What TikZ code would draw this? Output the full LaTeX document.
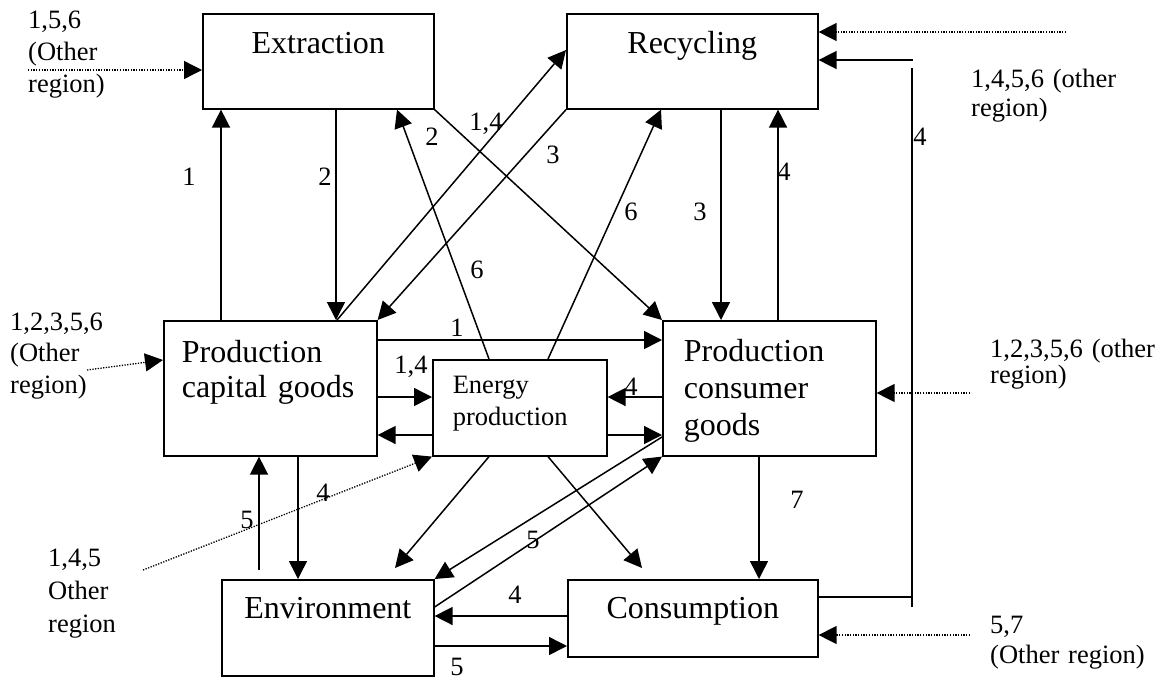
\documentclass[tikz,border=0pt]{standalone}
\usepackage{fontspec}
\setmainfont{Liberation Serif}
\usetikzlibrary{arrows.meta}

\begin{document}
\begin{tikzpicture}[x=1pt, y=-1pt,
      box/.style = {shape=rectangle, draw, line width=1.6pt, anchor=north west,
        inner ysep=0pt, font=\fontsize{32pt}{35pt}\selectfont},
      arr/.style = {line width=1.5pt, -{Triangle[length=18pt, width=18pt]}},
      dotarr/.style = {arr, line width=1.3pt, dash pattern=on 1.3pt off 1.4pt},
      num/.style = {inner sep=0pt, font=\fontsize{26.5pt}{29pt}\selectfont},
      lab/.style = {inner sep=0pt, anchor=base west, align=left, text width=180pt,
        font=\fontsize{26.5pt}{#1}\selectfont}]
  \useasboundingbox (0,0) rectangle (1161,681);

  % sectors
  \node[box, inner xsep=0pt, text width=231pt, align=center,
    text height=40pt, text depth=55pt] (extr) at (202,13) {Extraction};
  \node[box, inner xsep=0pt, text width=251pt, align=center,
    text height=40pt, text depth=55pt] (recy) at (566,13) {Recycling};
  \node[box, inner xsep=18pt, text width=177pt, align=left,
    text height=42pt, text depth=93pt] (pcap) at (163,320) {Production\\capital goods};
  \node[box, inner xsep=20pt, text width=134pt, align=left,
    text height=34pt, text depth=62pt,
    font=\fontsize{26.5pt}{32pt}\selectfont] (ener) at (432,359) {Energy\\production};
  \node[box, inner xsep=21pt, text width=171pt, align=left,
    text height=41pt, text depth=94pt,
    font=\fontsize{32pt}{37pt}\selectfont] (pcon) at (662,320) {Production\\consumer\\goods};
  \node[box, inner xsep=0pt, text width=212pt, align=center,
    text height=39pt, text depth=57pt] (envi) at (221,579) {Environment};
  \node[box, inner xsep=0pt, text width=250pt, align=center,
    text height=39pt, text depth=38pt] (cons) at (567,579) {Consumption};

  % other regions
  \node[lab=32pt] (oth1) at (28,28) {1,5,6\\(Other\\region)};
  \node[lab=31.5pt] (oth2) at (10,330) {1,2,3,5,6\\(Other\\region)};
  \node[lab=33pt] (oth3) at (48,566) {1,4,5\\Other\\region};
  \node[lab=29pt] (oth4) at (971,87) {1,4,5,6 (other\\region)};
  \node[lab=26pt] (oth5) at (990,357) {1,2,3,5,6 (other\\region)};
  \node[lab=30pt] (oth6) at (990,633) {5,7\\(Other region)};

  \coordinate (o1) at (1066,32);
  \coordinate (o2) at (28,70);
  \coordinate (o3) at (87,370);
  \coordinate (o4) at (143,570);
  \coordinate (o5) at (970,393);
  \coordinate (o6) at (970,635);
  \draw[dotarr] (o1) -- (recy.east |- o1);
  \draw[dotarr] (o2) -- (extr.west |- o2);
  \draw[dotarr] (o3) -- (pcap.west |- 0,360);
  \draw[dotarr] (o4) -- (ener.south west);
  \draw[dotarr] (o5) -- (pcon.east |- o5);
  \draw[dotarr] (o6) -- (cons.east |- o6);

  % flows between sectors
  \draw[arr] (221,0 |- pcap.north) -- (221,0 |- extr.south);
  \draw[arr] (336,0 |- extr.south) -- (336,0 |- pcap.north);
  \draw[arr] (489,0 |- ener.north) -- (397,0 |- extr.south);
  \draw[arr] (extr.south east) -- (pcon.north west);
  \draw[arr] (337,0 |- pcap.north) -- (recy.west |- 0,50);
  \draw[arr] (recy.south west) -- (pcap.north east);
  \draw[arr] (548,0 |- ener.north) -- (661,0 |- recy.south);
  \draw[arr] (721,0 |- recy.south) -- (721,0 |- pcon.north);
  \draw[arr] (778,0 |- pcon.north) -- (778,0 |- recy.south);

  \draw[arr] (pcap.east |- 0,340) -- (pcon.west |- 0,340);
  \draw[arr] (pcap.east |- 0,397) -- (ener.west |- 0,397);
  \draw[arr] (ener.west |- 0,435) -- (pcap.east |- 0,435);
  \draw[arr] (pcon.west |- 0,397) -- (ener.east |- 0,397);
  \draw[arr] (ener.east |- 0,435) -- (pcon.west |- 0,435);

  \coordinate (e1) at (395,568);
  \coordinate (e2) at (642,568);
  \coordinate (e3) at (259,570);
  \draw[arr] (pcon.west |- 0,437) -- (envi.north east);
  \draw[arr] (envi.east |- 0,607) -- (pcon.south west);
  \draw[arr] (489,0 |- ener.south) -- (e1);
  \draw[arr] (548,0 |- ener.south) -- (e2);
  \draw[arr] (298,0 |- pcap.south) -- (298,0 |- envi.north);
  \draw[arr] (e3) -- (259,0 |- pcap.south);
  \draw[arr] (759,0 |- pcon.south) -- (759,0 |- cons.north);
  \draw[arr] (cons.west |- 0,616) -- (envi.east |- 0,616);
  \draw[arr] (envi.east |- 0,646) -- (cons.west |- 0,646);

  % consumption back to recycling
  \coordinate (c1) at (912,597);
  \coordinate (c2) at (912,607);
  \coordinate (c3) at (912,68);
  \coordinate (c4) at (913,60);
  \draw[line width=1.5pt] (cons.east |- c1) -- (c1);
  \draw[line width=1.5pt] (c2) -- (c3);
  \draw[arr] (c4) -- (recy.east |- c4);

  % flow labels
  \node[num] (n1) at (189,177) {1};
  \node[num] (n2) at (325,177) {2};
  \node[num] (n3) at (432,137) {2};
  \node[num] (n4) at (486,124) {1,4};
  \node[num] (n5) at (553,155) {3};
  \node[num] (n6) at (477,270) {6};
  \node[num] (n7) at (631,212) {6};
  \node[num] (n8) at (700,212) {3};
  \node[num] (n9) at (784,172) {4};
  \node[num] (n10) at (920,137) {4};
  \node[num] (n11) at (457,328) {1};
  \node[num] (n12) at (411,367) {1,4};
  \node[num] (n13) at (631,387) {4};
  \node[num] (n14) at (323,493) {4};
  \node[num] (n15) at (247,520) {5};
  \node[num] (n16) at (533,540) {5};
  \node[num] (n17) at (797,500) {7};
  \node[num] (n18) at (515,595) {4};
  \node[num] (n19) at (457,667) {5};
\end{tikzpicture}
\end{document}
